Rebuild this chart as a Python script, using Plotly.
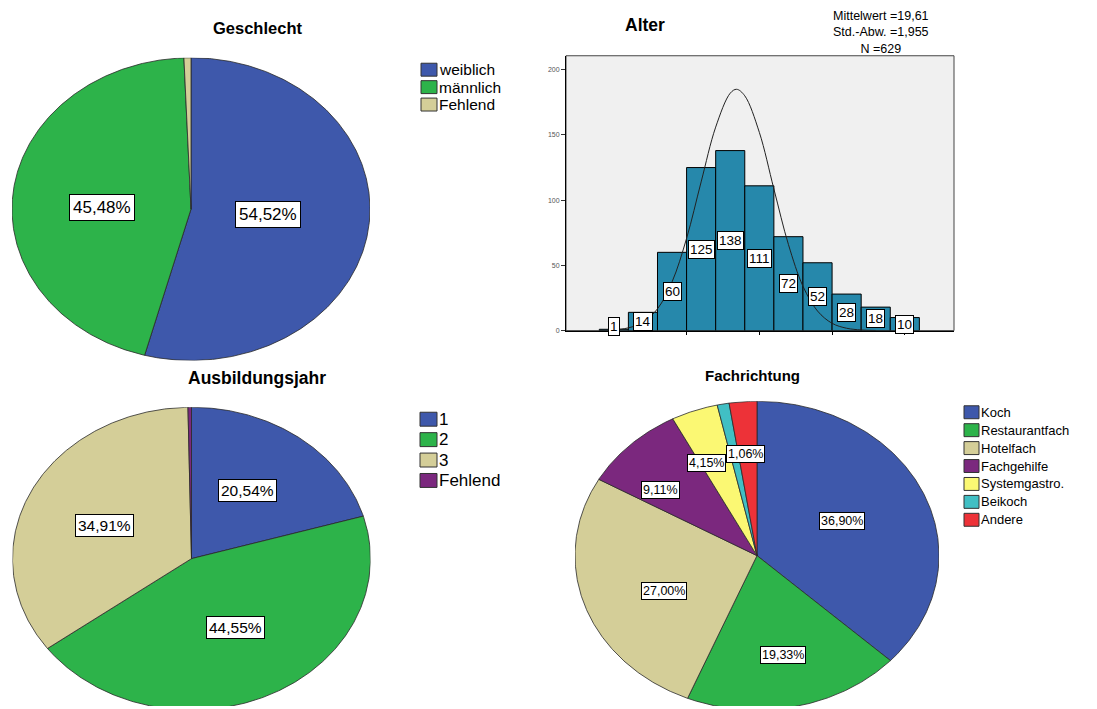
import math
import plotly.graph_objects as go

# ---------------- data ----------------
gender_labels = ["weiblich", "männlich", "Fehlend"]
gender_counts = [344, 287, 4]

year_labels = ["1", "2", "3", "Fehlend"]
year_counts = [130, 282, 221, 2]

fach_labels = ["Koch", "Restaurantfach", "Hotelfach", "Fachgehilfe",
               "Systemgastro.", "Beikoch", "Andere"]
fach_pct = [36.90, 19.33, 27.00, 9.11, 4.15, 1.06, 2.45]
fach_show = [True, True, True, True, True, True, False]

ages = [15, 16, 17, 18, 19, 20, 21, 22, 23, 24, 25]
age_counts = [1, 14, 60, 125, 138, 111, 72, 52, 28, 18, 10]
age_mean_txt = "19,61"
age_sd_txt = "1,955"

# normal curve
curve_x = [14.5, 15, 15.5, 16, 16.5, 17, 17.5, 18, 18.5, 19, 19.22, 19.5, 20,
           20.5, 21, 21.5, 22, 22.5, 23, 23.5, 24]
curve_y = [0.1, 0.6, 2.1, 6.3, 16.7, 37.3, 70.7, 114, 156, 182, 185, 180, 152,
           108.6, 66, 34, 15, 5.6, 1.8, 0.5, 0.1]

# ---------------- style ----------------
W, H = 1097, 709
FONT = "Liberation Sans, Arial, sans-serif"
C_BLUE, C_GREEN, C_TAN = "#3E58AB", "#2DB34A", "#D4CE98"
C_PURPLE, C_YELLOW, C_CYAN, C_RED = "#7B287E", "#FBF873", "#41BFC4", "#ED3238"
gender_colors = [C_BLUE, C_GREEN, C_TAN]
year_colors = [C_BLUE, C_GREEN, C_TAN, C_PURPLE]
fach_colors = [C_BLUE, C_GREEN, C_TAN, C_PURPLE, C_YELLOW, C_CYAN, C_RED]
BAR_COLOR = "#2688AB"


def px(x):
    return x / W


def py(y):
    return 1 - y / H


fig = go.Figure()
annotations = []
shapes = []


def fmt_pct(v):
    return f"{v:.2f}".replace(".", ",") + "%"


def add_pie(values, colors, xa, ya, label_pcts, label_r, label_off, fsize, pad):
    total = float(sum(values))
    cum = 0.0
    for i, v in enumerate(values):
        f0 = cum / total
        f1 = (cum + v) / total
        cum += v
        n = max(2, int((f1 - f0) * 720))
        ts = [f0 + (f1 - f0) * k / n for k in range(n + 1)]
        xs = [0] + [math.sin(2 * math.pi * t) for t in ts] + [0]
        ys = [0] + [math.cos(2 * math.pi * t) for t in ts] + [0]
        fig.add_trace(go.Scatter(
            x=xs, y=ys, xaxis=xa, yaxis=ya, mode="lines", fill="toself",
            fillcolor=colors[i], line=dict(color="#2a2a2a", width=0.8),
            hoverinfo="skip", showlegend=False))
        if label_pcts[i] is not None:
            ang = 2 * math.pi * (f0 + f1) / 2 + math.radians(label_off[i])
            r = label_r[i]
            annotations.append(dict(
                x=r * math.sin(ang), y=r * math.cos(ang),
                xref=xa, yref=ya, text=fmt_pct(label_pcts[i]),
                xanchor="center", yanchor="middle",
                showarrow=False, bgcolor="white", bordercolor="black",
                borderwidth=1, borderpad=pad,
                font=dict(family=FONT, size=fsize, color="black")))


# Geschlecht
g_valid = sum(gender_counts[:2])
g_lab = [100 * c / g_valid for c in gender_counts[:2]] + [None]
add_pie(gender_counts, gender_colors, "x", "y", g_lab,
        [0.43, 0.50, 0], [-3, -5, 0], 17, 3)

# Ausbildungsjahr
y_valid = sum(year_counts[:3])
y_lab = [100 * c / y_valid for c in year_counts[:3]] + [None]
add_pie(year_counts, year_colors, "x2", "y2", y_lab,
        [0.55, 0.52, 0.53], [-2, -2, -2], 15.5, 2)

# Fachrichtung
f_lab = [p if s else None for p, s in zip(fach_pct, fach_show)]
add_pie(fach_pct, fach_colors, "x3", "y3", f_lab,
        [0.52, 0.66, 0.56, 0.68, 0.66, 0.66, 0],
        [-2, 0, -5, -7, -5, 5, 0], 12.5, 1)

# Histogram
fig.add_trace(go.Bar(
    x=ages, y=age_counts, width=1, xaxis="x4", yaxis="y4",
    marker=dict(color=BAR_COLOR, line=dict(color="black", width=1)),
    hoverinfo="skip", showlegend=False))
fig.add_trace(go.Scatter(
    x=curve_x, y=curve_y, xaxis="x4", yaxis="y4", mode="lines",
    line=dict(color="#222", width=1, shape="spline"),
    hoverinfo="skip", showlegend=False))
for a, c in zip(ages, age_counts):
    annotations.append(dict(
        x=a, y=max(c / 2, 3.5), xref="x4", yref="y4", text=str(c),
        xanchor="center", yanchor="middle",
        showarrow=False, bgcolor="white", bordercolor="black",
        borderwidth=1, borderpad=1,
        font=dict(family=FONT, size=13.5, color="black")))

shapes.append(dict(type="rect", xref="x4 domain", yref="y4 domain",
                   x0=0, x1=1, y0=0, y1=1, layer="below",
                   fillcolor="#F0F0F0", line=dict(color="#444", width=1)))

annotations.append(dict(
    x=px(881), y=py(7), xref="paper", yref="paper", xanchor="center",
    yanchor="top", showarrow=False, align="center",
    text=f"Mittelwert ={age_mean_txt}<br>Std.-Abw. ={age_sd_txt}<br>N ={sum(age_counts)}",
    font=dict(family=FONT, size=12.5, color="black")))

# Titles
for t, x, y, s in [("Geschlecht", 257, 28, 16.5), ("Alter", 645, 25, 17.5),
                   ("Ausbildungsjahr", 257, 380, 17.5),
                   ("Fachrichtung", 752, 377, 15)]:
    annotations.append(dict(
        x=px(x), y=py(y), xref="paper", yref="paper", showarrow=False,
        xanchor="center", yanchor="middle",
        text=f"<b>{t}</b>", font=dict(family=FONT, size=s, color="black")))


# Legends
def add_legend(labels, colors, x0, y0, dy, sw, sh, fsize):
    for i, (lab, col) in enumerate(zip(labels, colors)):
        yc = y0 + i * dy
        shapes.append(dict(type="rect", xref="paper", yref="paper",
                           x0=px(x0), x1=px(x0 + sw),
                           y0=py(yc - sh / 2), y1=py(yc + sh / 2),
                           fillcolor=col, line=dict(color="#333", width=1)))
        annotations.append(dict(
            x=px(x0 + sw), y=py(yc), xref="paper", yref="paper",
            xanchor="left", yanchor="middle", showarrow=False, text=lab,
            font=dict(family=FONT, size=fsize, color="black")))


add_legend(gender_labels, gender_colors, 421, 70, 17.5, 16, 13, 15.5)
add_legend(year_labels, year_colors, 420, 421, 20.5, 17, 14, 17)
add_legend(fach_labels, fach_colors, 964, 414, 18, 15, 13, 13)

pie_axis = dict(visible=False, fixedrange=True, showgrid=False, zeroline=False)
layout = dict(
    width=W, height=H, margin=dict(l=0, r=0, t=0, b=0),
    paper_bgcolor="white", plot_bgcolor="white", showlegend=False,
    xaxis=dict(pie_axis, domain=[px(12), px(370)], range=[-1, 1], anchor="y"),
    yaxis=dict(pie_axis, domain=[py(362), py(58)], range=[-1, 1], anchor="x"),
    xaxis2=dict(pie_axis, domain=[px(12.5), px(370.5)], range=[-1, 1], anchor="y2"),
    yaxis2=dict(pie_axis, domain=[0, py(409)], range=[-(709 - 561) / 152, 1], anchor="x2"),
    xaxis3=dict(pie_axis, domain=[px(575), px(939)], range=[-1, 1], anchor="y3"),
    yaxis3=dict(pie_axis, domain=[0, py(403)], range=[-(709 - 558) / 155, 1], anchor="x3"),
    xaxis4=dict(domain=[px(566), px(954)], range=[13.356, 26.69], anchor="y4",
                showgrid=False, zeroline=False, showline=True, linecolor="black",
                linewidth=1, ticks="outside", ticklen=3, tickcolor="black",
                tickvals=[15, 17.5, 20, 22.5, 25], showticklabels=False,
                fixedrange=True),
    yaxis4=dict(domain=[py(332), py(56)], range=[0, 210.7], anchor="x4",
                showgrid=False, zeroline=False, showline=True, linecolor="black",
                linewidth=1, ticks="outside", ticklen=4, tickcolor="#333",
                tickvals=[0, 50, 100, 150, 200],
                tickfont=dict(family=FONT, size=7, color="#555"),
                fixedrange=True),
    annotations=annotations, shapes=shapes,
)
fig.update_layout(**layout)
fig.write_html("out.html")
